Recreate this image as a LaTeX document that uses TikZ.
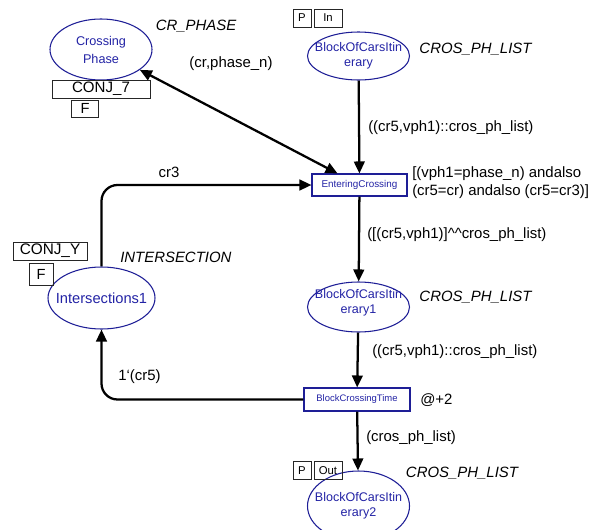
\documentclass[tikz,border=0pt]{standalone}
\usepackage{fontspec}
\setmainfont{Liberation Sans}
\usetikzlibrary{shapes.geometric,arrows.meta}
\definecolor{cpnblue}{RGB}{30,30,150}
\definecolor{cpntext}{RGB}{35,35,165}
\begin{document}
\begin{tikzpicture}[x=0.75pt,y=-0.75pt,
  place/.style={ellipse,draw=cpnblue,line width=0.8pt,inner sep=0pt},
  ptext/.style={text=cpntext,inner sep=0pt,align=center},
  trans/.style={rectangle,draw=cpnblue,line width=0.8pt,text=cpntext,inner sep=0pt},
  tag/.style={rectangle,draw=black!85,line width=0.7pt,inner sep=0pt},
  lbl/.style={font=\fontsize{11.2}{13.5}\selectfont,inner sep=0pt},
  lblit/.style={font=\fontsize{11.2}{13.5}\selectfont\itshape,inner sep=0pt},
  arc/.style={line width=1.7pt,-{Triangle[length=9pt,width=8pt]}},
  biarc/.style={line width=1.7pt,{Triangle[length=9pt,width=8pt]}-{Triangle[length=9pt,width=8pt]}},
]
\useasboundingbox (0,0) rectangle (592,529);

% places
\node[place,minimum width=76.5pt,minimum height=45.75pt,
  label={[ptext,font=\fontsize{9.5}{13.5}\selectfont]center:Crossing\\Phase}] (cp) at (101,49.5) {};
\node[place,minimum width=76.5pt,minimum height=36pt,
  label={[ptext,font=\fontsize{9.4}{11.25}\selectfont]center:BlockOfCarsItin\\erary}] (boci) at (358.5,56) {};
\node[place,minimum width=76.5pt,minimum height=37.5pt,
  label={[ptext,font=\fontsize{9.4}{11.25}\selectfont,yshift=3pt]center:BlockOfCarsItin\\erary1}] (boci1) at (358.5,307) {};
\node[place,minimum width=76.5pt,minimum height=52.5pt,
  label={[ptext,font=\fontsize{9.4}{11.25}\selectfont]center:BlockOfCarsItin\\erary2}] (boci2) at (358.5,506) {};
\node[place,minimum width=80.25pt,minimum height=46.5pt,
  label={[ptext,font=\fontsize{11}{13}\selectfont]center:Intersections1}] (int1) at (101.5,298) {};

% transitions
\node[trans,minimum width=71.25pt,minimum height=16.5pt,font=\fontsize{7.4}{9}\selectfont] (ec) at (359.5,185) {EnteringCrossing};
\node[trans,minimum width=79.5pt,minimum height=17.25pt,font=\fontsize{7.1}{9}\selectfont] (bct) at (357,399.5) {BlockCrossingTime};

% tags
\node[tag,minimum width=13.5pt,minimum height=13.5pt,font=\fontsize{8.5}{10}\selectfont] (p1) at (302,18) {P};
\node[tag,minimum width=21pt,minimum height=13.5pt,font=\fontsize{8.5}{10}\selectfont] (in1) at (328,18) {In};
\node[tag,minimum width=13.5pt,minimum height=13.5pt,font=\fontsize{8.5}{10}\selectfont] (p2) at (302,470.5) {P};
\node[tag,minimum width=21pt,minimum height=13.5pt,font=\fontsize{8.5}{10}\selectfont] (out2) at (328,470.5) {Out};
\node[tag,minimum width=73.5pt,minimum height=13.5pt,font=\fontsize{11.3}{13}\selectfont] (conj7) at (101,89) {CONJ\_7};
\node[tag,minimum width=20.25pt,minimum height=12.75pt,font=\fontsize{11}{13}\selectfont] (f1) at (85,108.5) {F};
\node[tag,minimum width=55.5pt,minimum height=13.5pt,font=\fontsize{11.5}{13}\selectfont] (conjy) at (50,251) {CONJ\_Y};
\node[tag,minimum width=18pt,minimum height=16.5pt,font=\fontsize{11}{13}\selectfont] (f2) at (41,274) {F};

% arcs
\draw[arc] (boci) -- (ec);
\draw[arc] (ec) -- (boci1);
\draw[arc] (boci1) -- (bct);
\draw[arc] (bct) -- (boci2);
\draw[biarc] (cp) -- (ec);
\draw[arc,rounded corners=12pt] (int1) |- (ec);
\draw[arc,rounded corners=12pt] (bct) -| (int1);

% labels
\node[lblit] (t1) at (196,26) {CR\_PHASE};
\node[lbl] (a1) at (231,64) {(cr,phase\_n)};
\node[lblit] (t2) at (475.5,49) {CROS\_PH\_LIST};
\node[lbl,anchor=west] (a2) at (368,128) {((cr5,vph1)::cros\_ph\_list)};
\node[lbl,anchor=west,align=left] (g1) at (412,183) {[(vph1=phase\_n) andalso\\(cr5=cr) andalso (cr5=cr3)]};
\node[lbl,anchor=west] (a3) at (367,235) {([(cr5,vph1)]\textasciicircum\textasciicircum cros\_ph\_list)};
\node[lblit] (t3) at (475.5,297) {CROS\_PH\_LIST};
\node[lbl,anchor=west] (a4) at (372,352) {((cr5,vph1)::cros\_ph\_list)};
\node[lbl,anchor=west] (tm) at (420,400) {@+2};
\node[lbl,anchor=west] (a5) at (366,438) {(cros\_ph\_list)};
\node[lblit] (t4) at (462,473) {CROS\_PH\_LIST};
\node[lbl] (a6) at (169,172) {cr3};
\node[lbl,anchor=west] (a7) at (118,377) {1`(cr5)};
\node[lblit,anchor=west] (t5) at (120,257) {INTERSECTION};
\end{tikzpicture}
\end{document}
